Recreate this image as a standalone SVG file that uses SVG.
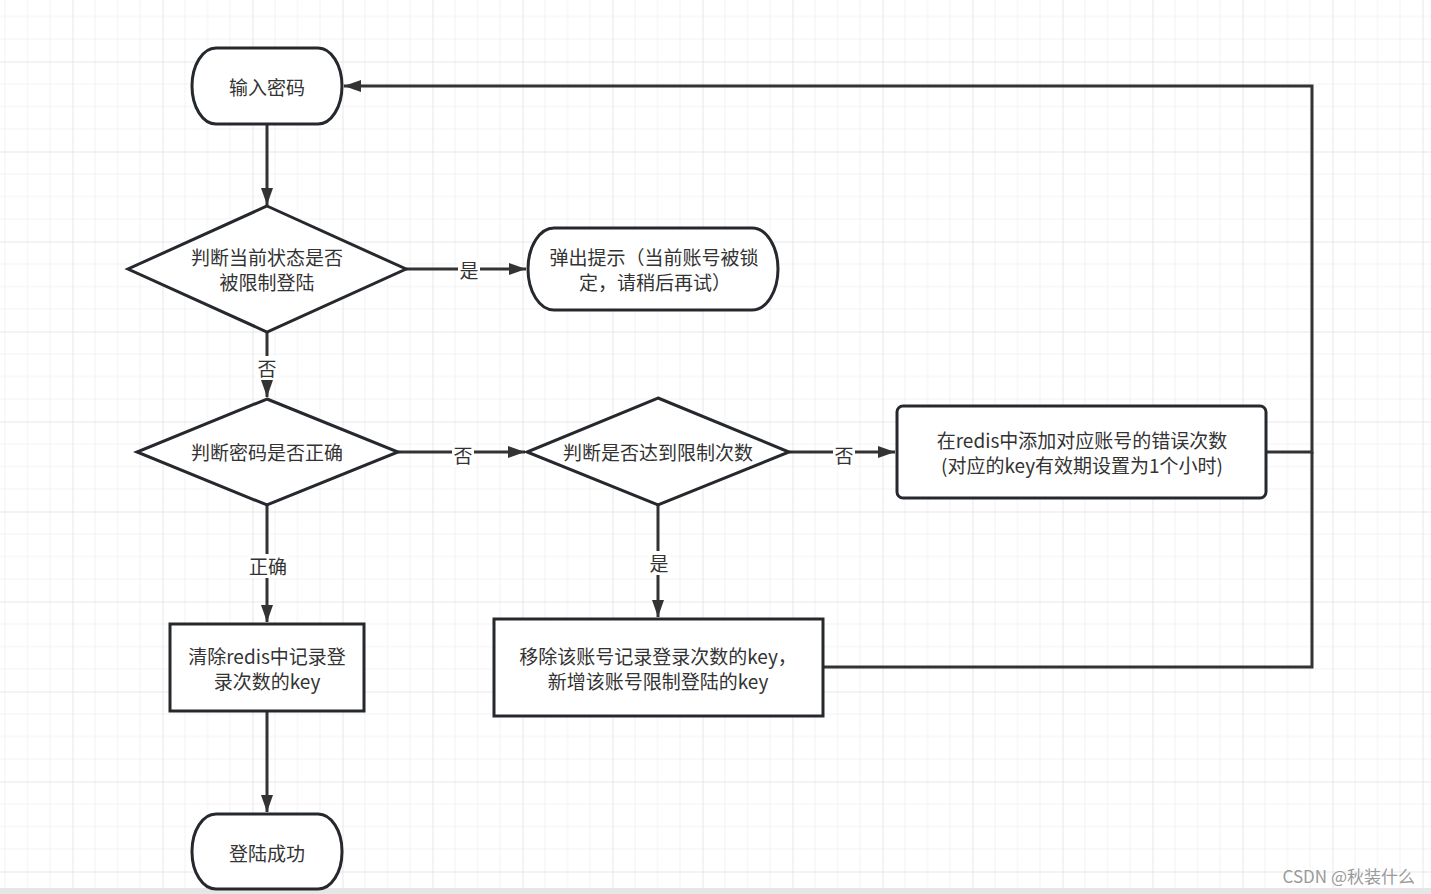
<svg xmlns="http://www.w3.org/2000/svg" width="1431" height="894" viewBox="0 0 1431 894">
<defs>
<pattern id="grid" patternUnits="userSpaceOnUse" x="-17.5" y="-28.5" width="90" height="90">
<path d="M22.5,0V90M45,0V90M67.5,0V90M0,22.5H90M0,45H90M0,67.5H90" stroke="#f2f2f2" stroke-width="1" fill="none"/>
<path d="M0.5,0V90M0,0.5H90" stroke="#e6e6e6" stroke-width="1" fill="none"/>
</pattern>
<marker id="arr" markerUnits="userSpaceOnUse" markerWidth="18" markerHeight="14" refX="17" refY="7" orient="auto">
<path d="M0,1 L17,7 L0,13 Z" fill="#333"/>
</marker>
<style>
.shape{fill:#fff;stroke:#25292d;stroke-width:3}
.conn{fill:none;stroke:#333;stroke-width:3}
.t{font-family:"Noto Sans CJK SC","Noto Sans",sans-serif;font-size:19px;fill:#333;text-anchor:middle;dominant-baseline:central}
.lbg{fill:#fff}
</style>
</defs>
<rect x="0" y="0" width="1431" height="894" fill="#fff"/>
<rect x="0" y="0" width="1431" height="888" fill="url(#grid)"/>
<rect x="0" y="888" width="1431" height="6" fill="#e6e6e6"/>

<g id="connectors">
<path class="conn" d="M267,124V205" marker-end="url(#arr)"/>
<path class="conn" d="M406,269H526" marker-end="url(#arr)"/>
<path class="conn" d="M267,332V397" marker-end="url(#arr)"/>
<path class="conn" d="M398,452H525" marker-end="url(#arr)"/>
<path class="conn" d="M789,452H895" marker-end="url(#arr)"/>
<path class="conn" d="M658,505V617" marker-end="url(#arr)"/>
<path class="conn" d="M267,505V622" marker-end="url(#arr)"/>
<path class="conn" d="M267,711V812" marker-end="url(#arr)"/>
<path class="conn" d="M1266,452H1312V86H344" marker-end="url(#arr)"/>
<path class="conn" d="M823,667H1312V452"/>
<rect class="lbg" x="458" y="258" width="22" height="24"/>
<text class="t" x="469" y="269">是</text>
<rect class="lbg" x="256" y="356" width="22" height="24"/>
<text class="t" x="267" y="367">否</text>
<rect class="lbg" x="452" y="443" width="22" height="24"/>
<text class="t" x="463" y="454">否</text>
<rect class="lbg" x="833" y="443" width="22" height="24"/>
<text class="t" x="844" y="454">否</text>
<rect class="lbg" x="648" y="551" width="22" height="24"/>
<text class="t" x="659" y="562">是</text>
<rect class="lbg" x="248" y="554" width="40" height="24"/>
<text class="t" x="268" y="565">正确</text>
</g>

<g id="n-input">
<rect class="shape" x="192" y="48" width="150" height="76" rx="24" ry="38"/>
<text class="t" x="267" y="86">输入密码</text>
</g>
<g id="n-locked">
<polygon class="shape" points="267,206 406,269 267,332 128,269"/>
<text class="t" x="267" y="256">判断当前状态是否</text>
<text class="t" x="267" y="281">被限制登陆</text>
</g>
<g id="n-tip">
<rect class="shape" x="528" y="228" width="250" height="82" rx="26" ry="41"/>
<text class="t" x="654" y="256">弹出提示（当前账号被锁</text>
<text class="t" x="655" y="281">定，请稍后再试）</text>
</g>
<g id="n-pwd">
<polygon class="shape" points="267,399 398,452 267,505 137,452"/>
<text class="t" x="267" y="451">判断密码是否正确</text>
</g>
<g id="n-limit">
<polygon class="shape" points="658,398 789,452 658,505 527,452"/>
<text class="t" x="658" y="451">判断是否达到限制次数</text>
</g>
<g id="n-incr">
<rect class="shape" x="897" y="406" width="369" height="92" rx="6" ry="6"/>
<text class="t" x="1082" y="439">在redis中添加对应账号的错误次数</text>
<text class="t" x="1082" y="464">(对应的key有效期设置为1个小时)</text>
</g>
<g id="n-clear">
<rect class="shape" x="170" y="624" width="194" height="87"/>
<text class="t" x="267" y="655">清除redis中记录登</text>
<text class="t" x="267" y="680">录次数的key</text>
</g>
<g id="n-lock">
<rect class="shape" x="494" y="619" width="329" height="97"/>
<text class="t" x="658" y="655">移除该账号记录登录次数的key，</text>
<text class="t" x="658" y="680">新增该账号限制登陆的key</text>
</g>
<g id="n-success">
<rect class="shape" x="192" y="814" width="150" height="75" rx="24" ry="37"/>
<text class="t" x="267" y="852">登陆成功</text>
</g>
<text x="1415" y="883" font-family="&quot;Noto Sans CJK SC&quot;,&quot;Noto Sans&quot;,sans-serif" font-size="17" fill="#9a9a9a" text-anchor="end">CSDN @秋装什么</text>
</svg>
